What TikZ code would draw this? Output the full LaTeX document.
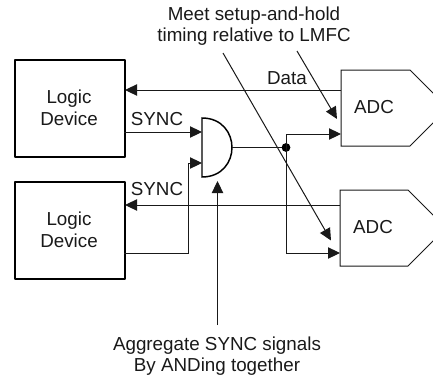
\documentclass[tikz,border=0pt]{standalone}
\usepackage{fontspec}
\setmainfont{Liberation Sans}
\usetikzlibrary{arrows.meta}
\tikzset{x=0.75pt,y=-0.75pt,
  txt/.style={inner sep=0pt,align=center,font=\fontsize{14.1pt}{16.2pt}\selectfont,text=black!90},
  wire/.style={draw=black!90,line width=0.75pt},
  arr/.style={wire,-{Triangle[length=9pt,width=8.5pt]}},
  thick box/.style={draw=black,line width=1.5pt,line join=round},
  adc/.style={draw=black!90,line width=0.75pt}}
\begin{document}
\begin{tikzpicture}
\useasboundingbox (0,0) rectangle (433,379);
\clip (0,0) rectangle (433,379);
\node[thick box,minimum width=82.5pt,minimum height=73pt,anchor=north west,inner sep=0pt] (L1) at (14,59) {};
\node[thick box,minimum width=82.5pt,minimum height=73pt,anchor=north west,inner sep=0pt] (L2) at (14,181) {};
\node[txt] (L1t) at (69,107.5) {Logic\\Device};
\node[txt] (L2t) at (69,229.5) {Logic\\Device};
\coordinate (A1a) at (341,70); \coordinate (A1b) at (410,70); \coordinate (A1c) at (448,108); \coordinate (A1d) at (410,146); \coordinate (A1e) at (341,146);
\coordinate (A2a) at (340,190); \coordinate (A2b) at (408,190); \coordinate (A2c) at (446,228); \coordinate (A2d) at (408,266); \coordinate (A2e) at (340,266);
\draw[adc] (A1a)--(A1b)--(A1c)--(A1d)--(A1e)--cycle;
\draw[adc] (A2a)--(A2b)--(A2c)--(A2d)--(A2e)--cycle;
\node[txt] (A1t) at (374,107) {ADC};
\node[txt] (A2t) at (373,227) {ADC};
\coordinate (G1) at (202,118); \coordinate (G2) at (202,177);
\draw[draw=black,line width=1.1pt] (G1) .. controls (222,118) and (232,133) .. (232,147.5) .. controls (232,162) and (222,177) .. (G2) -- cycle;
\coordinate (Gout) at (232,147.5);
% wires
\coordinate (D1s) at (341,90); \coordinate (D1e) at (125,90);
\coordinate (D2s) at (340,205); \coordinate (D2e) at (125,205);
\draw[arr] (D1s)--(D1e);
\draw[arr] (D2s)--(D2e);
\coordinate (S1s) at (124,132); \coordinate (S1e) at (202,132);
\draw[arr] (S1s)--(S1e);
\coordinate (S2s) at (124,253); \coordinate (S2m) at (188,253); \coordinate (S2n) at (188,163); \coordinate (S2e) at (202,163);
\draw[arr] (S2s)--(S2m)--(S2n)--(S2e);
\coordinate (Dot) at (286,147.5);
\draw[wire] (Gout)--(Dot);
\fill[black] (Dot) circle (3.3pt);
\coordinate (U1) at (286,134); \coordinate (U2) at (341,134);
\draw[arr] (Dot)--(U1)--(U2);
\coordinate (V1) at (286,253); \coordinate (V2) at (340,253);
\draw[arr] (Dot)--(V1)--(V2);
\coordinate (Tt1) at (223,53); \coordinate (Th1) at (331,240.5);
\coordinate (Tt2) at (297,51); \coordinate (Th2) at (337,119);
\draw[arr] (Tt1)--(Th1);
\draw[arr] (Tt2)--(Th2);
\coordinate (Ag1) at (217.5,325); \coordinate (Ag2) at (217.5,181);
\draw[arr] (Ag1)--(Ag2);
\node[txt] (tSync1) at (157,119) {SYNC};
\node[txt] (tSync2) at (157,189) {SYNC};
\node[txt] (tData) at (287,78) {Data};
\node[txt] (tTop) at (254,26) {Meet setup-and-hold\\timing relative to LMFC};
\node[txt] (tBot) at (217,356) {Aggregate SYNC signals\\By ANDing together};
\end{tikzpicture}
\end{document}
